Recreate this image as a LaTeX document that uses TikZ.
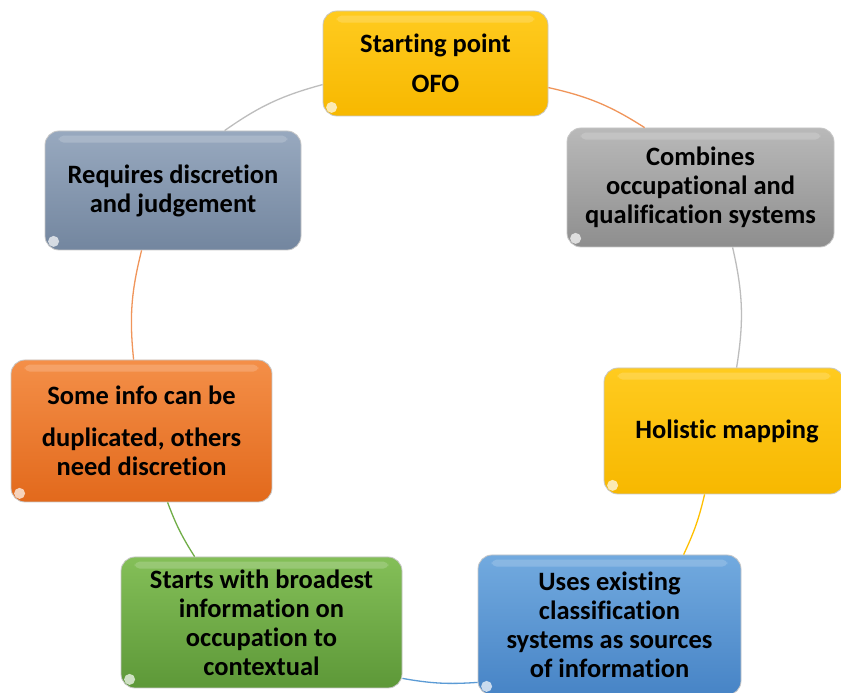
\documentclass[tikz,border=0pt]{standalone}
\usepackage{fontspec}
\setmainfont{Carlito}[Ligatures=CommonOff]
\usetikzlibrary{calc}

\definecolor{goldT}{HTML}{FFCB1F}
\definecolor{goldB}{HTML}{F7B800}
\definecolor{grayT}{HTML}{B9B9B9}
\definecolor{grayB}{HTML}{8E8E8E}
\definecolor{blueT}{HTML}{72AADF}
\definecolor{blueB}{HTML}{4784C6}
\definecolor{greenT}{HTML}{84BF58}
\definecolor{greenB}{HTML}{5D9838}
\definecolor{orangeT}{HTML}{F48F48}
\definecolor{orangeB}{HTML}{E2691C}
\definecolor{slateT}{HTML}{98A9BF}
\definecolor{slateB}{HTML}{73869F}
\definecolor{arcOrange}{HTML}{F0955A}
\definecolor{arcGray}{HTML}{BDBDBD}
\definecolor{arcGold}{HTML}{FFC000}
\definecolor{arcBlue}{HTML}{5B9BD5}
\definecolor{arcGreen}{HTML}{70AD47}

\tikzset{
  cyclebox/.style={rounded corners=14pt, draw=black!22, line width=0.8pt,
    align=center, inner sep=0pt, font=\bfseries\fontsize{26.5}{29}\selectfont,
    text=black},
  gold/.style={cyclebox, top color=goldT, bottom color=goldB},
  silver/.style={cyclebox, top color=grayT, bottom color=grayB},
  azure/.style={cyclebox, top color=blueT, bottom color=blueB},
  leaf/.style={cyclebox, top color=greenT, bottom color=greenB},
  ember/.style={cyclebox, top color=orangeT, bottom color=orangeB},
  slate/.style={cyclebox, top color=slateT, bottom color=slateB},
  ring/.style={line width=1.3pt},
}

\begin{document}
\begin{tikzpicture}[x=1pt,y=1pt]
\useasboundingbox (0,0) rectangle (841,693);
\fill[white] (0,0) rectangle (841,693);

% boxes
\node[gold, minimum width=225pt, minimum height=105pt] (n1) at (435.5,629.5)
  {Starting point\\[11pt]OFO};
\node[silver, minimum width=267pt, minimum height=119pt] (n2) at (700.5,505.5)
  {Combines\\occupational and\\qualification systems};
\node[gold, minimum width=240pt, minimum height=126pt] (n3) at (724,262)
  {\hspace*{6pt}Holistic mapping};
\node[azure, minimum width=263pt, minimum height=140pt] (n4) at (609.5,68)
  {Uses existing\\classification\\systems as sources\\of information};
\node[leaf, minimum width=281pt, minimum height=131pt] (n5) at (261.5,70.5)
  {Starts with broadest\\information on\\occupation to\\contextual};
\node[ember, minimum width=261pt, minimum height=142pt] (n6) at (141.5,262)
  {Some info can be\\[13pt]duplicated, others\\need discretion};
\node[slate, minimum width=256pt, minimum height=119pt] (n7) at (173,502.5)
  {Requires discretion\\and judgement};

% glossy highlights on every box
\foreach \b in {n1,n2,n3,n4,n5,n6,n7}{
  \fill[white, opacity=0.18, rounded corners=5pt]
    ([xshift=14pt,yshift=-5pt]\b.north west) rectangle ([xshift=-14pt,yshift=-12pt]\b.north east);
  \fill[white, opacity=0.7] ([xshift=9pt,yshift=9pt]\b.south west) circle (5.5pt);
}

% attachment points of the ring on the box borders
\coordinate (a1w) at ($(n1.north west)+(0,-74)$);
\coordinate (a1e) at ($(n1.north east)+(0,-77)$);
\coordinate (a2n) at ($(n2.north west)+(78,0)$);
\coordinate (a2s) at ($(n2.south west)+(166,0)$);
\coordinate (a3n) at ($(n3.north west)+(133,0)$);
\coordinate (a3s) at ($(n3.south west)+(101,0)$);
\coordinate (a4n) at ($(n4.north west)+(206,0)$);
\coordinate (a4w) at ($(n4.south west)+(0,13)$);
\coordinate (a5e) at ($(n5.south east)+(0,10)$);
\coordinate (a5n) at ($(n5.north west)+(74,0)$);
\coordinate (a6s) at ($(n6.south west)+(157,0)$);
\coordinate (a6n) at ($(n6.north west)+(123,0)$);
\coordinate (a7s) at ($(n7.south west)+(97,0)$);
\coordinate (a7n) at ($(n7.north west)+(180,0)$);

% ring segments between neighbouring boxes
\draw[ring, arcOrange] (a1e) to[bend left=10] (a2n);
\draw[ring, arcGray]   (a2s) to[bend left=11] (a3n);
\draw[ring, arcGold]   (a3s) to[bend left=6]  (a4n);
\draw[ring, arcBlue]   (a4w) to[bend left=7]  (a5e);
\draw[ring, arcGreen]  (a5n) to[bend left=6]  (a6s);
\draw[ring, arcOrange] (a6n) to[bend left=10] (a7s);
\draw[ring, arcGray]   (a7n) to[bend left=10] (a1w);
\end{tikzpicture}
\end{document}
